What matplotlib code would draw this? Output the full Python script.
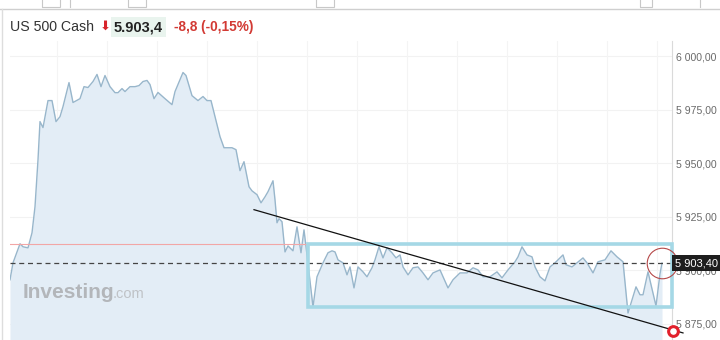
import matplotlib
matplotlib.use("Agg")
import matplotlib.pyplot as plt
from matplotlib.patches import Rectangle
import matplotlib.transforms as mtransforms

# ---- data (minutes from start, price) ----
minutes = [0, 3, 10, 13, 18, 22, 25, 28, 30, 33, 38, 42, 46, 50, 53, 59, 63, 70, 74, 78,
           83, 87, 91, 95, 100, 105, 108, 112, 115, 120, 125, 129, 133, 137, 140, 144, 148,
           155, 162, 165, 173, 176, 182, 188, 193, 197, 201, 205, 210, 214, 222, 226, 230,
           234, 239, 242, 247, 251, 255, 258, 263, 265, 267, 269, 272, 275, 278, 283, 287,
           291, 294, 297, 303, 307, 313, 318, 322, 325, 328, 333, 337, 340, 344, 348, 353,
           357, 362, 365, 369, 373, 377, 382, 386, 390, 393, 398, 403, 408, 413, 418, 423,
           430, 438, 443, 450, 457, 463, 468, 473, 480, 487, 492, 498, 505, 508, 512, 517,
           522, 525, 530, 535, 540, 545, 548, 553, 556, 562, 567, 573, 577, 583, 588, 595,
           601, 607, 613, 618, 626, 630, 633, 638, 646, 650, 652]
prices = [5895.6, 5903.5, 5912.4, 5911.0, 5910.5, 5917.5, 5929.7, 5951.6, 5969.4, 5966.6,
          5979.2, 5979.2, 5969.4, 5971.7, 5976.4, 5987.6, 5978.3, 5980.1, 5985.7, 5985.3,
          5988.1, 5991.4, 5985.7, 5990.9, 5985.7, 5982.9, 5982.9, 5984.8, 5983.4, 5985.7,
          5985.7, 5986.2, 5988.1, 5988.6, 5986.7, 5980.1, 5983.0, 5980.1, 5977.3, 5983.4,
          5992.3, 5990.9, 5981.5, 5979.2, 5981.1, 5979.2, 5979.2, 5971.7, 5962.4, 5957.2,
          5957.2, 5956.3, 5946.5, 5950.7, 5939.0, 5937.1, 5935.3, 5931.5, 5934.3, 5936.7,
          5941.8, 5932.9, 5922.2, 5924.1, 5922.7, 5908.6, 5911.4, 5909.1, 5920.3, 5908.2,
          5918.9, 5907.2, 5882.9, 5897.0, 5903.5, 5908.2, 5909.1, 5908.6, 5904.9, 5903.5,
          5897.9, 5901.6, 5891.8, 5901.6, 5899.3, 5897.0, 5901.2, 5904.9, 5911.0, 5905.8,
          5910.5, 5908.2, 5905.8, 5907.2, 5901.6, 5897.9, 5901.2, 5901.6, 5898.8, 5895.6,
          5898.8, 5900.2, 5891.8, 5895.6, 5898.8, 5898.8, 5901.2, 5900.2, 5897.0, 5897.0,
          5899.3, 5896.5, 5900.2, 5904.0, 5906.3, 5911.0, 5907.2, 5906.3, 5901.6, 5897.0,
          5895.1, 5901.6, 5903.5, 5904.9, 5907.2, 5902.6, 5901.6, 5903.5, 5905.8, 5903.5,
          5898.8, 5904.0, 5904.9, 5909.1, 5906.3, 5904.0, 5880.1, 5892.3, 5888.6, 5888.6,
          5899.3, 5883.4, 5898.4, 5903.4]

last_price = 5903.4
prev_close = 5912.2
y_ticks = [5875, 5900, 5925, 5950, 5975, 6000]
y_tick_labels = ["5 875,00", "5 900,00", "5 925,00", "5 950,00", "5 975,00", "6 000,00"]

# drawn annotations (range box and trend line) in data units
range_box_x = [298, 662]
range_box_y = [5883.0, 5912.2]
trend_x = [244, 673]
trend_y = [5928.3, 5870.8]
trend_end_marker = [663, 5871.7]

title_name = "US 500 Cash"
title_price = "5.903,4"
title_change = "-8,8 (-0,15%)"

# ---- figure ----
W, H = 720, 340
fig = plt.figure(figsize=(W / 100, H / 100), dpi=100)
fig.patch.set_facecolor("white")

ax = fig.add_axes([10 / W, 0, 662 / W, 299 / H])
ax.set_facecolor("white")
ymin, ymax = 5867.5, 6007
ax.set_xlim(0, 662)
ax.set_ylim(ymin, ymax)

# grid
for yt in y_ticks:
    ax.axhline(yt, color="#f2f2f2", lw=0.8, zorder=0)
for xg in range(47, 662, 50):
    ax.axvline(xg, color="#f4f4f4", lw=0.8, zorder=0)

ax.fill_between(minutes, prices, ymin - 10, color="#e3edf6", zorder=1, lw=0)
ax.plot(minutes, prices, color="#98b6cb", lw=1.0, zorder=2)

ax.axhline(prev_close, color="#f2a6a6", lw=0.8, zorder=2)
ax.axhline(last_price, color="#444444", lw=0.9, ls=(0, (4, 3)), zorder=3)

rect = Rectangle((range_box_x[0], range_box_y[0]), range_box_x[1] - range_box_x[0],
                 range_box_y[1] - range_box_y[0], fill=False, edgecolor="#a5d8e6",
                 lw=2.6, zorder=4, clip_on=False)
ax.add_patch(rect)

ax.plot(trend_x, trend_y, color="#111111", lw=0.9, zorder=5, clip_on=False)
ax.plot([trend_end_marker[0]], [trend_end_marker[1]], marker="o", ms=7, mfc="white",
        mec="#e2202c", mew=2.2, zorder=6, clip_on=False)
ax.plot([minutes[-1]], [last_price], marker="o", ms=22, mfc="none", mec="#b54848",
        mew=0.8, zorder=6, clip_on=False)

# axes styling
for s in ["left", "top", "bottom"]:
    ax.spines[s].set_visible(False)
ax.spines["right"].set_color("#dadada")
ax.spines["right"].set_linewidth(0.8)
ax.yaxis.tick_right()
ax.set_yticks(y_ticks)
ax.set_yticklabels(y_tick_labels, fontsize=7.6, color="#6a6a6a", family="Liberation Sans")
ax.tick_params(axis="y", length=0, pad=3)
ax.set_xticks([])

# last price label
trans = mtransforms.blended_transform_factory(ax.transAxes, ax.transData)
ax.text(1.004, last_price, "5 903,40", transform=trans, ha="left", va="center",
        fontsize=8, color="white", family="Liberation Sans", zorder=10,
        bbox=dict(boxstyle="square,pad=0.25", fc="#1e1e1e", ec="none"), clip_on=False)

# watermark
ax.text(13, 5889.6, "Investing", fontsize=15, fontweight="bold", color="#b3b6ba",
        family="Liberation Sans", ha="left", va="center", zorder=3)
ax.text(103, 5889.0, ".com", fontsize=10.5, color="#bfc2c6",
        family="Liberation Sans", ha="left", va="center", zorder=3)

# top toolbar line and left border
fig.add_artist(plt.Line2D([0, 1], [1 - 9 / H, 1 - 9 / H], color="#cfcfcf", lw=1.0))
fig.add_artist(plt.Line2D([2 / W, 2 / W], [0, 1 - 9 / H], color="#dddddd", lw=1.0))
for x0, x1 in [(42, 60), (128, 146), (316, 334), (640, 652)]:
    fig.add_artist(Rectangle((x0 / W, 1 - 7 / H), (x1 - x0) / W, 10 / H, fill=False,
                             edgecolor="#c8c8c8", lw=0.8))
fig.add_artist(plt.Line2D([70 / W, 70 / W], [1 - 7 / H, 1], color="#c8c8c8", lw=0.8))
fig.add_artist(plt.Line2D([700 / W, 700 / W], [1 - 7 / H, 1], color="#c8c8c8", lw=0.8))

# title row
ty = 1 - 27 / H
fig.text(10 / W, ty, title_name, fontsize=10.2, color="#333333", family="Liberation Sans",
         ha="left", va="center")
fig.text(99.5 / W, ty + 0.002, "\u2b07", fontsize=9.5, color="#d8242c", family="DejaVu Sans",
         ha="left", va="center")
fig.text(114 / W, ty, title_price, fontsize=10.5, fontweight="bold", color="#222222",
         family="Liberation Sans", ha="left", va="center",
         bbox=dict(boxstyle="square,pad=0.2", fc="#e9f4ee", ec="none"))
fig.text(174 / W, ty, title_change, fontsize=9.8, fontweight="bold", color="#d23a34",
         family="Liberation Sans", ha="left", va="center")

fig.savefig("out.png", dpi=100, facecolor="white")
